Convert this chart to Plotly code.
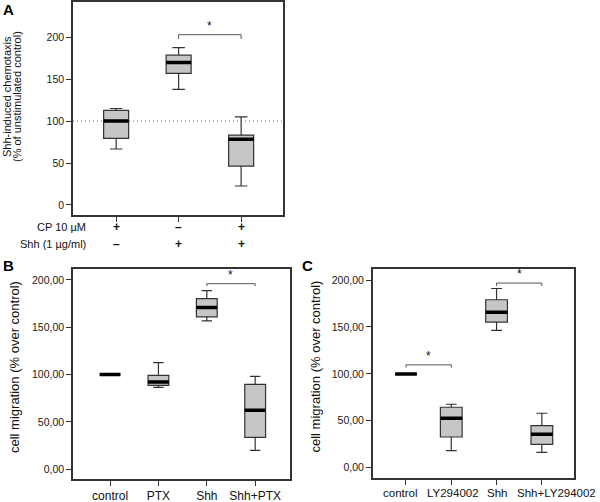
import plotly.graph_objects as go

# ---- panel A : Shh-induced chemotaxis ----
a_cp = ["+", "–", "+"]
a_shh = ["–", "+", "+"]
a_low = [66.7, 137.7, 22.6]
a_q1 = [79.4, 157.0, 46.4]
a_med = [100.0, 169.8, 78.2]
a_q3 = [112.7, 178.6, 83.3]
a_high = [115.0, 187.7, 105.0]
a_yticks = [0, 50, 100, 150, 200]

# ---- panel B : PTX ----
b_cats = ["control", "PTX", "Shh", "Shh+PTX"]
b_low = [100, 86.6, 156.7, 20.1]
b_q1 = [100, 88.7, 160.9, 33.8]
b_med = [100, 92.3, 170.8, 62.3]
b_q3 = [100, 99.3, 180.3, 89.8]
b_high = [100, 112.7, 188.7, 98.2]

# ---- panel C : LY294002 ----
c_cats = ["control", "LY294002", "Shh", "Shh+LY294002"]
c_low = [100, 18.1, 146.3, 16.4]
c_q1 = [100, 32.7, 155.2, 24.9]
c_med = [100, 52.7, 165.8, 35.6]
c_q3 = [100, 64.4, 179.0, 44.8]
c_high = [100, 67.6, 191.0, 58.0]

bc_yticks = [0, 50, 100, 150, 200]
bc_yticklabels = ["0,00", "50,00", "100,00", "150,00", "200,00"]

# significance brackets: (from, to)
a_sig = [(1, 2)]
b_sig = [(2, 3)]
c_sig = [(0, 1), (2, 3)]

W, H = 600, 502
FONT = "Liberation Sans, Arial, sans-serif"
AXC = "#333333"
BOXFILL = "#c6c6c6"


def px_x(p):
    return p / W


def px_y(p):
    return 1 - p / H


fig = go.Figure()


def add_panel(n, low, q1, med, q3, high, width):
    xs = list(range(len(med)))
    xa = "x" if n == 1 else f"x{n}"
    ya = "y" if n == 1 else f"y{n}"
    fig.add_trace(go.Box(
        x=xs, q1=q1, median=med, q3=q3, lowerfence=low, upperfence=high,
        width=width, whiskerwidth=0.5, fillcolor=BOXFILL,
        line=dict(color=AXC, width=1.2), boxpoints=False,
        xaxis=xa, yaxis=ya, showlegend=False, hoverinfo="skip",
    ))
    # thick median bar
    fig.add_trace(go.Box(
        x=xs, q1=med, median=med, q3=med, lowerfence=med, upperfence=med,
        width=width, whiskerwidth=0, fillcolor="black",
        line=dict(color="black", width=3.5), boxpoints=False,
        xaxis=xa, yaxis=ya, showlegend=False, hoverinfo="skip",
    ))


add_panel(1, a_low, a_q1, a_med, a_q3, a_high, 0.40)
add_panel(2, b_low, b_q1, b_med, b_q3, b_high, 0.43)
add_panel(3, c_low, c_q1, c_med, c_q3, c_high, 0.48)

ax_common = dict(showline=True, linecolor=AXC, linewidth=1.5, mirror=True,
                 showgrid=False, zeroline=False, ticks="outside", ticklen=5,
                 tickcolor=AXC, tickfont=dict(family=FONT, size=10.5, color="#1a1a1a"))
xlab_font = dict(family=FONT, size=12, color="#111")

fig.update_layout(
    width=W, height=H, margin=dict(l=0, r=0, t=0, b=0),
    plot_bgcolor="white", paper_bgcolor="white", boxmode="overlay",
    xaxis=dict(domain=[px_x(73), px_x(283)], range=[-0.69, 2.67],
               tickvals=list(range(3)), showticklabels=False, anchor="y", **ax_common),
    yaxis=dict(domain=[px_y(215), px_y(2)], range=[-12, 242],
               tickvals=a_yticks, anchor="x", **ax_common),
    xaxis2=dict(domain=[px_x(73), px_x(290)], range=[-0.766, 3.72],
                tickvals=list(range(4)), ticktext=b_cats, anchor="y2", **ax_common),
    yaxis2=dict(domain=[px_y(479), px_y(269)], range=[-10.2, 211.5],
                tickvals=bc_yticks, ticktext=bc_yticklabels, anchor="x2", **ax_common),
    xaxis3=dict(domain=[px_x(372.7), px_x(574)], range=[-0.735, 3.71],
                tickvals=list(range(4)), showticklabels=False, anchor="y3", **ax_common),
    yaxis3=dict(domain=[px_y(478), px_y(269)], range=[-11, 211.8],
                tickvals=bc_yticks, ticktext=bc_yticklabels, anchor="x3", **ax_common),
)
fig.update_layout(xaxis2_tickfont=xlab_font, xaxis2_tickangle=0)

# panel C category labels (last one nudged right, as in the original figure)
for k, (lbl, shift) in enumerate(zip(c_cats, [-5, 2, 0, 15])):
    fig.add_annotation(x=k, y=px_y(493), xref="x3", yref="paper", text=lbl,
                       showarrow=False, xanchor="center", yanchor="middle", xshift=shift,
                       font=dict(family=FONT, size=11.5, color="#111"))

# dotted reference line at 100 % in panel A (behind the boxes)
fig.add_shape(type="line", xref="x domain", yref="y", x0=0, x1=1, y0=100, y1=100,
              layer="below", line=dict(color="#666", width=1, dash="1px,3px"))


# significance brackets
def bracket(n, pair, level, dip):
    xr = "x" if n == 1 else f"x{n}"
    yr = "y" if n == 1 else f"y{n}"
    i, j = pair
    fig.add_shape(type="path", xref=xr, yref=yr,
                  path=f"M {i},{level - dip} L {i},{level} L {j},{level} L {j},{level - dip}",
                  line=dict(color="#555", width=1))
    fig.add_annotation(x=(i + j) / 2, y=level, xref=xr, yref=yr, text="*",
                       showarrow=False, xanchor="center", yanchor="bottom",
                       font=dict(family=FONT, size=12, color="#111"))


for p in a_sig:
    bracket(1, p, 203, 5)
for p, lvl in zip(b_sig, [196]):
    bracket(2, p, lvl, 2.5)
for p, lvl in zip(c_sig, [109.6, 196.8]):
    bracket(3, p, lvl, 3)


def text_px(txt, xpx, ypx, size, xanchor="center", angle=0, color="#111"):
    fig.add_annotation(x=px_x(xpx), y=px_y(ypx), xref="paper", yref="paper", text=txt,
                       showarrow=False, xanchor=xanchor, yanchor="middle",
                       textangle=angle, font=dict(family=FONT, size=size, color=color))


# treatment rows under panel A
for row_lbl, signs, ypx in [("CP 10 µM", a_cp, 227), ("Shh (1 µg/ml)", a_shh, 244)]:
    text_px(row_lbl, 88, ypx, 11, xanchor="right")
    for k, s in enumerate(signs):
        fig.add_annotation(x=k, y=px_y(ypx), xref="x", yref="paper", text=f"<b>{s}</b>",
                           showarrow=False, xanchor="center", yanchor="middle",
                           font=dict(family=FONT, size=12, color="#111"))

# axis titles
text_px("Shh-induced chemotaxis", 7, 97, 11, angle=-90)
text_px("(% of unstimulated control)", 17, 97, 11, angle=-90)
for xpx in [14, 314.5]:
    text_px("cell migration (% over control)", xpx, 367, 13, angle=-90)

# panel letters
for lbl, xpx, ypx in [("A", 8, 10), ("B", 8, 265), ("C", 307, 265)]:
    text_px(f"<b>{lbl}</b>", xpx, ypx, 15, color="black")

fig.write_html("out.html", config={"displayModeBar": False},
               post_script="document.body.style.margin='0';")
